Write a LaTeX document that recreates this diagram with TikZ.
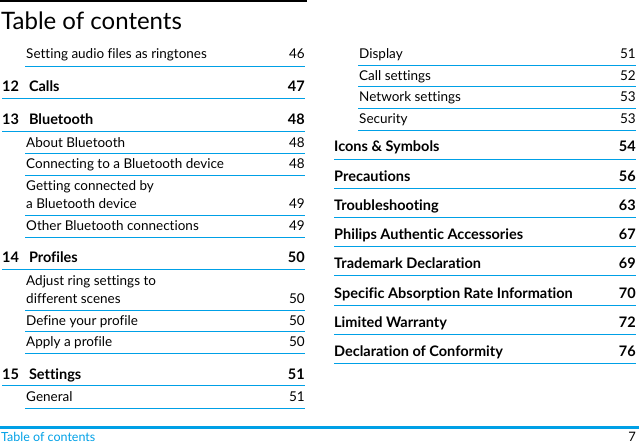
\documentclass[tikz,border=0pt]{standalone}
\usepackage{fontspec}
\setmainfont{Lato}[Ligatures=NoCommon]
\definecolor{pblue}{RGB}{0,160,230}
\tikzset{
 sub/.style={anchor=base west,inner sep=0pt,yshift=-4.5pt,font=\fontsize{13.5}{14}\selectfont},
 subr/.style={anchor=base east,inner sep=0pt,yshift=-4.5pt,font=\fontsize{13.5}{14}\selectfont},
 main/.style={anchor=base west,inner sep=0pt,yshift=-5pt,font=\fontsize{14.5}{16}\selectfont\bfseries},
 mainr/.style={anchor=base east,inner sep=0pt,yshift=-5pt,font=\fontsize{14.5}{16}\selectfont\bfseries},
 rule/.style={draw=pblue,line width=1pt}
}
\newcommand{\subrow}[6]{% x1 x2 ytext yline text page
 \node[sub] (s#3#1) at (#1+1,#3) {#5};
 \node[subr] (p#3#1) at (#2,#3) {#6};
 \coordinate (a#3#1) at (#1,#4); \coordinate (b#3#1) at (#2,#4);
 \draw[rule] (a#3#1) -- (b#3#1);}
\newcommand{\mainrow}[6]{%
 \node[main] (m#3#1) at (#1,#3) {#5};
 \node[mainr] (q#3#1) at (#2,#3) {#6};
 \coordinate (c#3#1) at (#1,#4); \coordinate (d#3#1) at (#2,#4);
 \draw[rule] (c#3#1) -- (d#3#1);}
\begin{document}
\begin{tikzpicture}[x=1pt,y=-1pt]
\useasboundingbox (0,0) rectangle (639,444);
\coordinate (t1) at (0,1); \coordinate (t2) at (307,1);
\draw[line width=1.2pt] (t1) -- (t2);
\node[anchor=base west,inner sep=0pt,font=\fontsize{24}{26}\selectfont\fontseries{l}\selectfont] (title) at (1,30) {Table of contents};
\subrow{25}{305}{54}{66}{Setting audio files as ringtones}{46}
\mainrow{2}{305}{86}{98}{12\hspace{10pt}Calls}{47}
\mainrow{2}{305}{119}{131}{13\hspace{10pt}Bluetooth}{48}
\subrow{25}{305}{143}{153}{About Bluetooth}{48}
\subrow{25}{305}{164}{175}{Connecting to a Bluetooth device}{48}
\node[sub] (g1) at (26,186) {Getting connected by};
\subrow{25}{305}{204}{215}{a Bluetooth device}{49}
\subrow{25}{305}{226}{237}{Other Bluetooth connections}{49}
\mainrow{2}{305}{257}{269}{14\hspace{10pt}Profiles}{50}
\node[sub] (g2) at (26,281) {Adjust ring settings to};
\subrow{25}{305}{299}{310}{different scenes}{50}
\subrow{25}{305}{321}{331}{Define your profile}{50}
\subrow{25}{305}{342}{353}{Apply a profile}{50}
\mainrow{2}{305}{374}{385}{15\hspace{10pt}Settings}{51}
\subrow{25}{305}{397}{408}{General}{51}
\subrow{358}{636}{54}{65}{Display}{51}
\subrow{358}{636}{76}{86}{Call settings}{52}
\subrow{358}{636}{97}{108}{Network settings}{53}
\subrow{358}{636}{119}{130}{Security}{53}
\mainrow{334}{636}{146}{159}{Icons \& Symbols}{54}
\mainrow{334}{636}{176}{188}{Precautions}{56}
\mainrow{334}{636}{205}{217}{Troubleshooting}{63}
\mainrow{334}{636}{234}{246}{Philips Authentic Accessories}{67}
\mainrow{334}{636}{263}{275}{Trademark Declaration}{69}
\mainrow{334}{636}{293}{305}{Specific Absorption Rate Information}{70}
\mainrow{334}{636}{322}{334}{Limited Warranty}{72}
\mainrow{334}{636}{351}{363}{Declaration of Conformity}{76}
\coordinate (f1) at (0,427); \coordinate (f2) at (639,427);
\draw[draw=pblue,line width=3pt] (f1) -- (f2);
\node[anchor=base west,inner sep=0pt,text=pblue,font=\fontsize{12.5}{14}\selectfont] (ft) at (1,441) {Table of contents};
\node[anchor=base east,inner sep=0pt,font=\fontsize{13}{14}\selectfont] (pg) at (636,441) {7};
\end{tikzpicture}
\end{document}
